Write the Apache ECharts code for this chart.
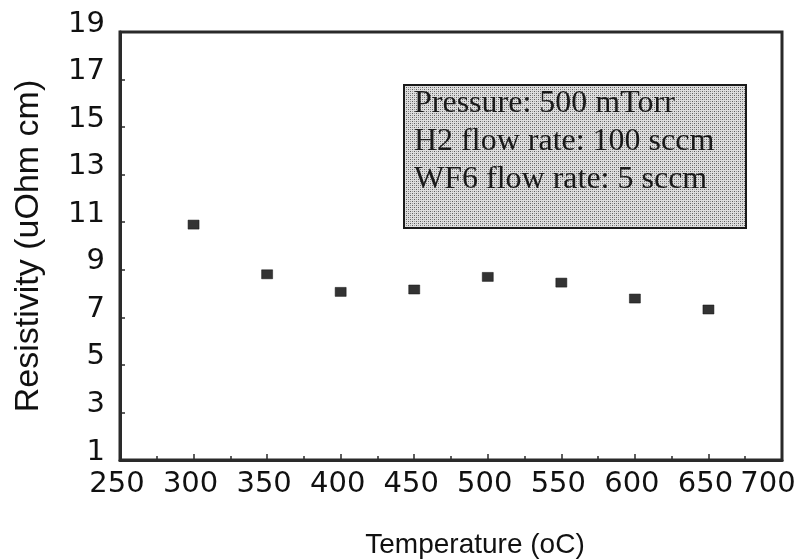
<!DOCTYPE html>
<html>
<head>
<meta charset="utf-8">
<script src="https://cdn.jsdelivr.net/npm/echarts@6/dist/echarts.min.js"></script>
<style>html,body{margin:0;padding:0;background:#fff;}#c{width:811px;height:559px;}</style>
</head>
<body>
<div id="c"></div>
<script>
const temperatures = [300, 350, 400, 450, 500, 550, 600, 650];
const resistivity = [10.9, 8.81, 8.07, 8.17, 8.70, 8.46, 7.79, 7.33];
const xTicks = [250, 300, 350, 400, 450, 500, 550, 600, 650, 700];
const yTicks = [1, 3, 5, 7, 9, 11, 13, 15, 17, 19];
const noteLines = ['Pressure: 500 mTorr', 'H2 flow rate: 100 sccm', 'WF6 flow rate: 5 sccm'];

const pc = document.createElement('canvas');
pc.width = 4; pc.height = 4;
const pctx = pc.getContext('2d');
pctx.fillStyle = '#dedede'; pctx.fillRect(0, 0, 4, 4);
pctx.fillStyle = '#5e5e5e';
pctx.fillRect(0, 0, 1, 1); pctx.fillRect(2, 2, 1, 1);
pctx.fillStyle = '#9a9a9a';
pctx.fillRect(2, 0, 1, 1); pctx.fillRect(0, 2, 1, 1);

const chart = echarts.init(document.getElementById('c'), null, {renderer: 'canvas'});
const tickFont = '"DejaVu Sans", sans-serif';
chart.setOption({
  animation: false,
  grid: {left: 120, right: 29, top: 32, bottom: 99, containLabel: false, outerBoundsMode: 'none', show: true, borderColor: '#2a2a2a', borderWidth: 3, backgroundColor: '#fff'},
  xAxis: {
    type: 'value', min: xTicks[0], max: xTicks[xTicks.length - 1], interval: 50,
    name: 'Temperature (oC)', nameLocation: 'middle', nameGap: 71,
    nameTextStyle: {fontFamily: '"Liberation Sans", Arial, sans-serif', fontSize: 28, color: '#111', padding: [0, 0, 0, 48]},
    axisLine: {show: true, lineStyle: {color: '#2a2a2a', width: 3}},
    axisTick: {show: true, inside: true, length: 6, lineStyle: {color: '#2a2a2a', width: 1.5}},
    minorTick: {show: true, splitNumber: 2, length: 4, lineStyle: {color: '#2a2a2a', width: 1.5}},
    splitLine: {show: false},
    axisLabel: {
      fontFamily: tickFont, fontSize: 29, color: '#111', margin: 7, hideOverlap: false, showMaxLabel: true, showMinLabel: true,
      formatter: v => xTicks.includes(v) ? (v === 700 ? '{e|' + v + '}' : '{n|' + v + '}') : '',
      rich: {
        n: {fontFamily: tickFont, fontSize: 29, lineHeight: 34, color: '#111', padding: [0, 6, 0, 0]},
        e: {fontFamily: tickFont, fontSize: 29, lineHeight: 34, color: '#111', padding: [0, 28, 0, 0]}
      }
    }
  },
  yAxis: {
    type: 'value', min: yTicks[0], max: yTicks[yTicks.length - 1], interval: 2,
    name: 'Resistivity (uOhm cm)', nameLocation: 'middle', nameGap: 74,
    nameTextStyle: {fontFamily: '"Liberation Sans", Arial, sans-serif', fontSize: 34, color: '#111'},
    axisLine: {show: true, lineStyle: {color: '#2a2a2a', width: 3}},
    axisTick: {show: true, inside: true, length: 5, lineStyle: {color: '#2a2a2a', width: 1.5}},
    splitLine: {show: false},
    axisLabel: {
      fontFamily: tickFont, fontSize: 29, color: '#111', margin: 15, hideOverlap: false, showMaxLabel: true, showMinLabel: true,
      formatter: v => yTicks.includes(v) ? '{y|' + v + '}' : '',
      rich: {y: {fontFamily: tickFont, fontSize: 29, lineHeight: 34, color: '#111', padding: [0, 0, 16, 0]}}
    }
  },
  series: [{
    type: 'scatter',
    data: temperatures.map((t, i) => [t, resistivity[i]]),
    symbol: 'rect', symbolSize: [11, 9],
    itemStyle: {color: '#333', borderColor: '#111', borderWidth: 0.5, opacity: 1}
  }],
  graphic: [{
    type: 'group', left: 403, top: 84,
    children: [
      {type: 'rect', shape: {x: 0, y: 0, width: 342, height: 143}, style: {fill: {image: pc, repeat: 'repeat'}, stroke: '#1a1a1a', lineWidth: 2}},
      {type: 'text', x: 10, y: 0, style: {text: noteLines.join('\n'), font: '32px "Liberation Serif", "Times New Roman", serif', lineHeight: 38, fill: '#1a1a1a', verticalAlign: 'top', align: 'left'}}
    ]
  }]
});
</script>
</body>
</html>
